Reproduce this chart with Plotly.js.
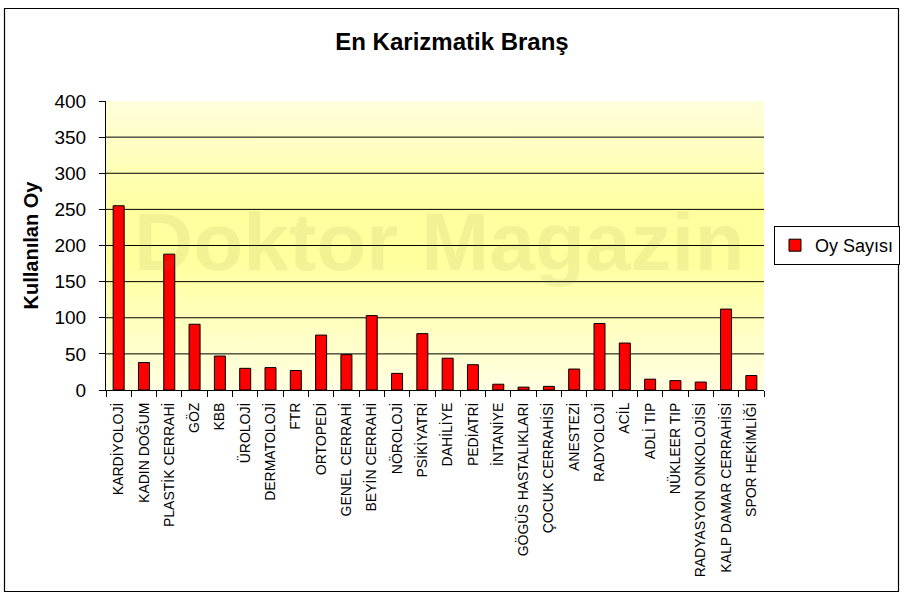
<!DOCTYPE html>
<html>
<head>
<meta charset="utf-8">
<script src="https://cdn.plot.ly/plotly-3.0.1.min.js"></script>
<style>
  html, body { margin: 0; padding: 0; background: #ffffff; }
  #chart { width: 904px; height: 597px; }
</style>
</head>
<body>
<div id="chart"></div>
<script>
// ---- data ----
const categories = [
  "KARDİYOLOJİ", "KADIN DOĞUM", "PLASTİK CERRAHİ", "GÖZ", "KBB", "ÜROLOJİ",
  "DERMATOLOJİ", "FTR", "ORTOPEDİ", "GENEL CERRAHİ", "BEYİN CERRAHİ", "NÖROLOJİ",
  "PSİKİYATRİ", "DAHİLİYE", "PEDİATRİ", "İNTANİYE", "GÖGÜS HASTALIKLARI",
  "ÇOCUK CERRAHİSİ", "ANESTEZİ", "RADYOLOJİ", "ACİL", "ADLİ TIP", "NÜKLEER TIP",
  "RADYASYON ONKOLOJİSİ", "KALP DAMAR CERRAHİSİ", "SPOR HEKİMLİĞİ"
];
const oySayisi = [
  255, 38, 188, 91, 47, 30,
  31, 27, 76, 49, 103, 23,
  78, 44, 35, 8, 4,
  5, 29, 92, 65, 15, 13,
  11, 112, 20
];
const seriesName = "Oy Sayısı";
const yTicks = [0, 50, 100, 150, 200, 250, 300, 350, 400];
const chartTitle = "En Karizmatik Branş";
const yTitle = "Kullanılan Oy";
const watermark = "Doktor Magazin";

// ---- layout helpers ----
const W = 904, H = 597;
const M = { l: 106, r: 140, t: 101, b: 207, autoexpand: false };
const pw = W - M.l - M.r, ph = H - M.t - M.b;
const px2x = p => (p - M.l) / pw;
const py2y = p => (H - M.b - p) / ph;

const FONT = '"Liberation Sans", Arial, sans-serif';

const gradSvg =
  '<svg xmlns="http://www.w3.org/2000/svg" width="100" height="100" preserveAspectRatio="none">' +
  '<defs><linearGradient id="g" x1="0" y1="0" x2="0" y2="1">' +
  '<stop offset="0" stop-color="#fffedc"/>' +
  '<stop offset="0.38" stop-color="#ffffa0"/>' +
  '<stop offset="0.55" stop-color="#ffff9e"/>' +
  '<stop offset="1" stop-color="#ffffe2"/>' +
  '</linearGradient></defs>' +
  '<rect width="100" height="100" fill="url(#g)"/></svg>';

const gridShapes = yTicks.slice(1, -1).map(v => ({
  type: 'line', xref: 'paper', yref: 'y', x0: 0, x1: 1, y0: v, y1: v,
  line: { color: '#000000', width: 1 }, layer: 'below'
}));

const borderShape = {
  type: 'rect', xref: 'paper', yref: 'paper',
  x0: px2x(4.5), x1: px2x(898.5), y0: py2y(591.5), y1: py2y(8.5),
  line: { color: '#000000', width: 1.2 }, fillcolor: 'rgba(0,0,0,0)', layer: 'below'
};

const trace = {
  type: 'bar',
  x: categories,
  y: oySayisi,
  name: seriesName,
  showlegend: true,
  marker: { color: '#ff0000', line: { color: '#000000', width: 1 } },
  hoverinfo: 'x+y'
};

const layout = {
  width: W, height: H,
  margin: M,
  paper_bgcolor: '#ffffff',
  plot_bgcolor: '#ffffc0',
  font: { family: FONT, color: '#000000' },
  bargap: 0.565,
  title: {
    text: chartTitle,
    font: { family: FONT, size: 24, color: '#000000', weight: 'bold' },
    x: 0.5, xref: 'container', xanchor: 'center',
    y: 1 - 42 / H, yref: 'container', yanchor: 'middle'
  },
  xaxis: {
    type: 'category',
    tickangle: -90,
    tickfont: { family: FONT, size: 14, color: '#000000' },
    ticks: 'outside', ticklen: 6, tickcolor: '#000000', tickwidth: 1,
    tickson: 'boundaries',
    ticklabelstandoff: 6,
    showline: true, linecolor: '#000000', linewidth: 1,
    showgrid: false, zeroline: false,
    fixedrange: true
  },
  yaxis: {
    range: [0, 400],
    tickmode: 'array', tickvals: yTicks, ticktext: yTicks.map(String),
    tickfont: { family: FONT, size: 19, color: '#000000' },
    ticks: 'outside', ticklen: 6, tickcolor: '#000000', tickwidth: 1,
    ticklabelstandoff: 9,
    showline: true, linecolor: '#000000', linewidth: 1,
    showgrid: false, zeroline: false,
    title: { text: yTitle, font: { family: FONT, size: 20, color: '#000000', weight: 'bold' }, standoff: 10 },
    fixedrange: true
  },
  legend: {
    x: px2x(774), xanchor: 'left',
    y: 0.5, yanchor: 'middle',
    bgcolor: '#ffffff', bordercolor: '#000000', borderwidth: 1,
    font: { family: FONT, size: 18, color: '#000000' }
  },
  images: [{
    source: 'data:image/svg+xml;charset=utf-8,' + encodeURIComponent(gradSvg),
    xref: 'paper', yref: 'paper', x: 0, y: 1, sizex: 1, sizey: 1,
    sizing: 'stretch', xanchor: 'left', yanchor: 'top', layer: 'below'
  }],
  shapes: gridShapes.concat([borderShape]),
  annotations: [{
    text: watermark, xref: 'paper', yref: 'paper',
    x: px2x(439), y: py2y(241), xanchor: 'center', yanchor: 'middle',
    showarrow: false,
    font: { family: FONT, size: 82, color: 'rgba(130,130,60,0.10)', weight: 'bold' }
  }]
};

Plotly.newPlot('chart', [trace], layout, { displayModeBar: false, staticPlot: true });
</script>
</body>
</html>
